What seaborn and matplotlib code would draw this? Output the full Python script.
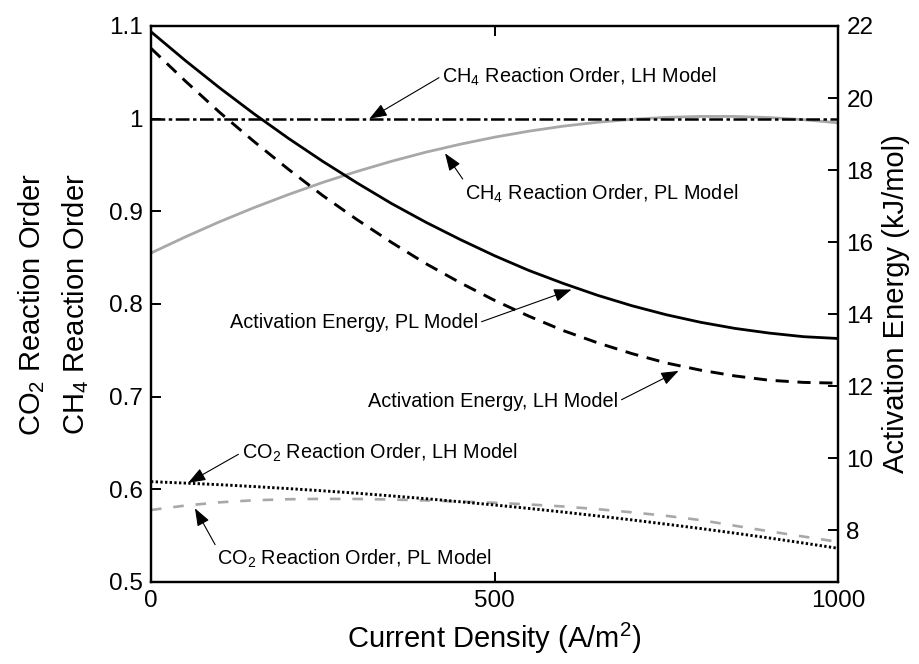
import matplotlib
matplotlib.use("Agg")
import matplotlib.pyplot as plt
import seaborn as sns
import pandas as pd

# ---------------- data ----------------
current = [0, 50, 100, 150, 200, 250, 300, 350, 400, 450, 500,
           550, 600, 650, 700, 750, 800, 850, 900, 950, 1000]

# Activation energy (kJ/mol), right axis
ae_pl = [21.84, 21.04, 20.28, 19.56, 18.88, 18.24, 17.64, 17.07, 16.55, 16.07, 15.62,
         15.21, 14.85, 14.52, 14.23, 13.98, 13.77, 13.60, 13.47, 13.37, 13.32]
ae_lh = [21.38, 20.47, 19.60, 18.79, 18.02, 17.29, 16.62, 15.99, 15.40, 14.87, 14.38,
         13.94, 13.54, 13.20, 12.90, 12.64, 12.44, 12.28, 12.16, 12.10, 12.08]

# Reaction orders, left axis
ch4_lh = [1.0] * 21
ch4_pl = [0.855, 0.8724, 0.8888, 0.9040, 0.9181, 0.9312, 0.9431, 0.9540, 0.9638, 0.9724, 0.9800,
          0.9865, 0.9919, 0.9961, 0.9993, 1.0014, 1.0024, 1.0024, 1.0012, 0.9989, 0.9955]
co2_lh = [0.6083, 0.6067, 0.6050, 0.6030, 0.6008, 0.5984, 0.5958, 0.5929, 0.5899, 0.5866, 0.5831,
          0.5794, 0.5755, 0.5713, 0.5670, 0.5624, 0.5577, 0.5527, 0.5475, 0.5420, 0.5364]
co2_pl = [0.5777, 0.5825, 0.5860, 0.5882, 0.5893, 0.5897, 0.5896, 0.5890, 0.5880, 0.5868, 0.5855,
          0.5837, 0.5815, 0.5786, 0.5752, 0.5714, 0.5668, 0.5607, 0.5547, 0.5490, 0.5433]

xticks = [0, 500, 1000]
left_ticks = [0.5, 0.6, 0.7, 0.8, 0.9, 1.0, 1.1]
left_ticklabels = ["0.5", "0.6", "0.7", "0.8", "0.9", "1", "1.1"]
right_ticks = [8, 10, 12, 14, 16, 18, 20, 22]

df = pd.DataFrame({"current": current, "ae_pl": ae_pl, "ae_lh": ae_lh,
                   "ch4_lh": ch4_lh, "ch4_pl": ch4_pl,
                   "co2_lh": co2_lh, "co2_pl": co2_pl})

# ---------------- style ----------------
sns.set_theme(style="white")
plt.rcParams["font.family"] = ["Liberation Sans", "DejaVu Sans"]
plt.rcParams["mathtext.fontset"] = "custom"
plt.rcParams["mathtext.rm"] = "Liberation Sans"
plt.rcParams["mathtext.it"] = "Liberation Sans:italic"
plt.rcParams["mathtext.bf"] = "Liberation Sans:bold"

fig = plt.figure(figsize=(9.19, 6.64), dpi=100)
ax = fig.add_axes([151 / 919, (664 - 582) / 664, (838 - 151) / 919, (582 - 26) / 664])
ax2 = ax.twinx()

gray = "#a8a8a8"

# left-axis series
sns.lineplot(data=df, x="current", y="ch4_pl", ax=ax, color=gray, lw=2.0)
sns.lineplot(data=df, x="current", y="ch4_lh", ax=ax, color="black", lw=1.8,
             linestyle=(0, (5.5, 1.4, 1.4, 1.4)))
sns.lineplot(data=df, x="current", y="co2_pl", ax=ax, color=gray, lw=1.9,
             linestyle=(0, (4.0, 4.5)))
sns.lineplot(data=df, x="current", y="co2_lh", ax=ax, color="black", lw=2.1,
             linestyle=(0, (0.8, 0.8)))

# right-axis series
sns.lineplot(data=df, x="current", y="ae_pl", ax=ax2, color="black", lw=2.0)
sns.lineplot(data=df, x="current", y="ae_lh", ax=ax2, color="black", lw=2.1,
             linestyle=(0, (4.5, 3.0)))

ax.set_xlim(0, 1000)
ax.set_ylim(0.5, 1.1)
ax2.set_ylim(6.556, 22)

ax.set_xticks(xticks)
ax.set_xticklabels([str(t) for t in xticks])
ax.set_yticks(left_ticks)
ax.set_yticklabels(left_ticklabels)
ax2.set_yticks(right_ticks)
ax2.set_yticklabels([str(t) for t in right_ticks])

tick_fs = 17.5
ax.tick_params(axis="both", direction="in", length=7, width=1.4, labelsize=tick_fs,
               colors="black", top=True, bottom=True, left=True, right=False, pad=6)
ax.tick_params(axis="x", labeltop=False)
ax2.tick_params(axis="y", direction="in", length=7, width=1.4, labelsize=tick_fs,
                colors="black", left=False, right=True, pad=6)

for a in (ax, ax2):
    for s in a.spines.values():
        s.set_visible(True)
        s.set_color("black")
        s.set_linewidth(1.6)

lab_fs = 21
ax.set_xlabel("Current Density (A/m$^2$)", fontsize=lab_fs, color="black", labelpad=6)
ax.set_ylabel("CO$_2$ Reaction Order\nCH$_4$ Reaction Order", fontsize=lab_fs,
              color="black", linespacing=1.55)
ax.yaxis.set_label_coords(-0.088, 0.5)
ax2.set_ylabel("Activation Energy (kJ/mol)", fontsize=lab_fs, color="black", labelpad=6)

# ---------------- annotations ----------------
ann_fs = 14.3
def arrow(rel):
    return dict(arrowstyle="-|>,head_length=0.75,head_width=0.28", color="black",
                lw=0.8, relpos=rel, shrinkA=0, shrinkB=0)

ax.annotate("CH$_4$ Reaction Order, LH Model", xy=(318, 1.0), xytext=(424, 1.0388),
            ha="left", va="baseline", fontsize=ann_fs, color="black",
            arrowprops=arrow((0.0, 0.55)))
ax.annotate("CH$_4$ Reaction Order, PL Model", xy=(428, 0.9626), xytext=(457, 0.913),
            ha="left", va="baseline", fontsize=ann_fs, color="black",
            arrowprops=arrow((0.0, 1.0)))
ax.annotate("CO$_2$ Reaction Order, LH Model", xy=(54, 0.607), xytext=(132, 0.6335),
            ha="left", va="baseline", fontsize=ann_fs, color="black",
            arrowprops=arrow((0.0, 0.5)))
ax.annotate("CO$_2$ Reaction Order, PL Model", xy=(64, 0.5795), xytext=(96, 0.5184),
            ha="left", va="baseline", fontsize=ann_fs, color="black",
            arrowprops=arrow((0.0, 1.0)))
ax2.annotate("Activation Energy, PL Model", xy=(612, 14.68), xytext=(115, 13.60),
             ha="left", va="baseline", fontsize=ann_fs, color="black",
             arrowprops=arrow((1.0, 0.5)))
ax2.annotate("Activation Energy, LH Model", xy=(768, 12.42), xytext=(316, 11.42),
             ha="left", va="baseline", fontsize=ann_fs, color="black",
             arrowprops=arrow((1.0, 0.5)))

fig.savefig("out.png", dpi=100)
